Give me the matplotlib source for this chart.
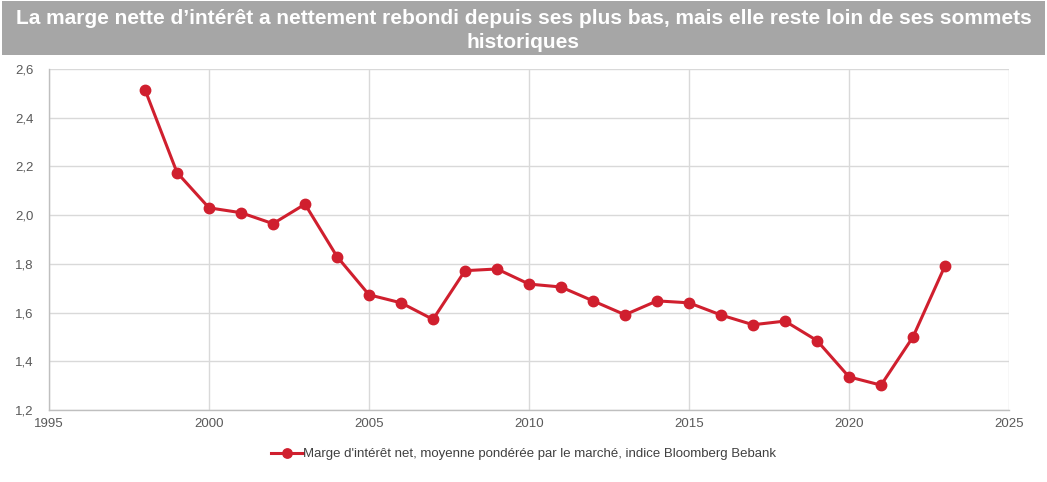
import matplotlib
matplotlib.use("Agg")
import matplotlib.pyplot as plt
from matplotlib.patches import Rectangle
from matplotlib.ticker import FuncFormatter

years = list(range(1998, 2024))
values = [2.515, 2.175, 2.030, 2.010, 1.965, 2.045, 1.830, 1.673, 1.640, 1.572,
          1.772, 1.779, 1.717, 1.705, 1.648, 1.591, 1.648, 1.640, 1.590, 1.550,
          1.565, 1.485, 1.336, 1.302, 1.500, 1.792]
series_label = "Marge d'intérêt net, moyenne pondérée par le marché, indice Bloomberg Bebank"
title_lines = ["La marge nette d’intérêt a nettement rebondi depuis ses plus bas, mais elle reste loin de ses sommets",
               "historiques"]
x_ticks = [1995, 2000, 2005, 2010, 2015, 2020, 2025]
y_ticks = [1.2, 1.4, 1.6, 1.8, 2.0, 2.2, 2.4, 2.6]

W, H = 1047, 482
fig = plt.figure(figsize=(W / 100, H / 100), dpi=100)
fig.patch.set_facecolor("white")

# title band
fig.patches.append(Rectangle((2 / W, 1 - 55 / H), 1043 / W, 54 / H, transform=fig.transFigure,
                             facecolor="#A6A6A6", edgecolor="none", zorder=0))
for line, yc in zip(title_lines, [18, 42]):
    fig.text(0.5, 1 - yc / H, line, ha="center", va="center", color="white",
             fontsize=15, fontweight="bold",
             family=["Liberation Sans", "DejaVu Sans"])

ax = fig.add_axes([49 / W, 1 - 410 / H, 960 / W, 341 / H])
red = "#D01F2E"
ax.plot(years, values, color=red, lw=2.2, marker="o", markersize=7.5, label=series_label, zorder=3)

ax.set_xlim(1995, 2025)
ax.set_ylim(1.2, 2.6)
ax.set_xticks(x_ticks)
ax.set_yticks(y_ticks)
ax.yaxis.set_major_formatter(FuncFormatter(lambda v, p: f"{v:.1f}".replace(".", ",")))
ax.grid(True, color="#D9D9D9", lw=1)
ax.set_axisbelow(True)
for s in ["top", "right"]:
    ax.spines[s].set_visible(False)
for s in ["left", "bottom"]:
    ax.spines[s].set_color("#BFBFBF")
    ax.spines[s].set_linewidth(1)
ax.tick_params(length=0, labelsize=9.5, colors="#595959", pad=6,
               labelfontfamily="Liberation Sans")
ax.tick_params(axis="y", pad=11)

leg = fig.legend(loc="center", bbox_to_anchor=(0.5, 1 - 454 / H), frameon=False,
                 prop={"family": "Liberation Sans", "size": 9.5}, handlelength=2.5,
                 handletextpad=0.0, markerscale=0.9)
for t in leg.get_texts():
    t.set_color("#404040")

fig.savefig("out.png", dpi=100)
